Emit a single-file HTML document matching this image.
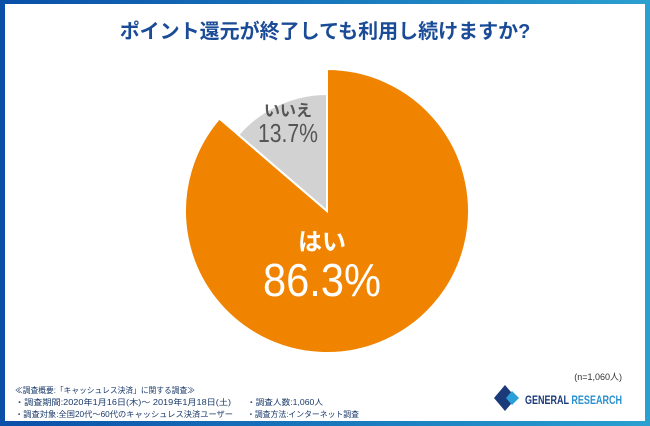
<!DOCTYPE html>
<html><head><meta charset="utf-8"><style>
body{margin:0;width:650px;height:426px;overflow:hidden;font-family:"Liberation Sans","Noto Sans CJK JP",sans-serif;}
#frame{position:absolute;left:0;top:0;width:650px;height:426px;background:linear-gradient(90deg,#0a4fa8,#1b7fc0 60%,#2aa0d0);}
#inner{position:absolute;left:5px;top:4px;width:640px;height:417px;background:#fff;}
</style></head><body>
<div id="frame"></div>
<div id="inner"></div>
<svg width="650" height="426" style="position:absolute;left:0;top:0">
<text x="325" y="38" text-anchor="middle" font-size="20" font-weight="bold" fill="#1a4b96" font-family="Liberation Sans,Noto Sans CJK JP,sans-serif">ポイント還元が終了しても利用し続けますか?</text>
<g id="pie"></g>
<text x="622" y="380" text-anchor="end" font-size="9" fill="#333">(n=1,060人)</text>
<g font-size="8" fill="#1a3a6a" font-family="Liberation Sans,Noto Sans CJK JP,sans-serif">
<text x="15" y="393" textLength="180" lengthAdjust="spacingAndGlyphs">≪調査概要:「キャッシュレス決済」に関する調査≫</text>
<text x="15" y="405" textLength="216" lengthAdjust="spacingAndGlyphs">・調査期間:2020年1月16日(木)～ 2019年1月18日(土)</text>
<text x="15" y="417" textLength="218" lengthAdjust="spacingAndGlyphs">・調査対象:全国20代～60代のキャッシュレス決済ユーザー</text>
<text x="247" y="405" textLength="76" lengthAdjust="spacingAndGlyphs">・調査人数:1,060人</text>
<text x="247" y="417" textLength="112" lengthAdjust="spacingAndGlyphs">・調査方法:インターネット調査</text>
</g>
<g>
<polygon points="505,385 494,398 505,411 516,398" fill="#1a3a7a"/>
<polygon points="512,391 519,398 512,405 506,398" fill="#2aa0d8"/>
<text x="525" y="404" font-size="12" font-weight="bold" fill="#1a3a7a" textLength="97" lengthAdjust="spacingAndGlyphs">GENERAL <tspan fill="#2a90d0">RESEARCH</tspan></text>
</g>
</svg>
<script>
const categories=['はい','いいえ'];
const values=[86.3,13.7];
const radii=[142,117];
const colors=['#f08300','#d2d2d2'];
const cx=327,cy=211;
const g=document.getElementById('pie');
const ns='http://www.w3.org/2000/svg';
const total=values.reduce((a,b)=>a+b,0);
let start=0;
function pt(a,r){return [cx+r*Math.sin(a),cy-r*Math.cos(a)];}
values.forEach((v,i)=>{
  const a0=start*2*Math.PI/total,a1=(start+v)*2*Math.PI/total;
  const r=radii[i];
  const p0=pt(a0,r),p1=pt(a1,r);
  const large=(a1-a0)>Math.PI?1:0;
  const p=document.createElementNS(ns,'path');
  p.setAttribute('d',`M${cx},${cy}L${p0[0]},${p0[1]}A${r},${r} 0 ${large} 1 ${p1[0]},${p1[1]}Z`);
  p.setAttribute('fill',colors[i]);p.setAttribute('stroke','#fff');p.setAttribute('stroke-width','2');
  
  
  g.appendChild(p);
  start+=v;
});
function label(x,y,t1,t2,c,s1,s2,w,name){
  const t=document.createElementNS(ns,'text');
  t.setAttribute('x',x);t.setAttribute('y',y);t.setAttribute('text-anchor','middle');
  t.setAttribute('font-size',s1);t.setAttribute('font-weight','bold');t.setAttribute('fill',c);
  t.textContent=t1;
  
  
  g.appendChild(t);
  const u=document.createElementNS(ns,'text');
  u.setAttribute('x',x);u.setAttribute('y',y+s2*1.0);u.setAttribute('text-anchor','middle');
  u.setAttribute('font-size',s2);u.setAttribute('fill',c);
  u.setAttribute('textLength',w);u.setAttribute('lengthAdjust','spacingAndGlyphs');
  u.textContent=t2;
  
  
  g.appendChild(u);
}
label(288,116,categories[1],values[1]+'%','#555',16,26,60,'no');
label(322,250,categories[0],values[0]+'%','#fff',24,46,118,'yes');
</script>
</body></html>
